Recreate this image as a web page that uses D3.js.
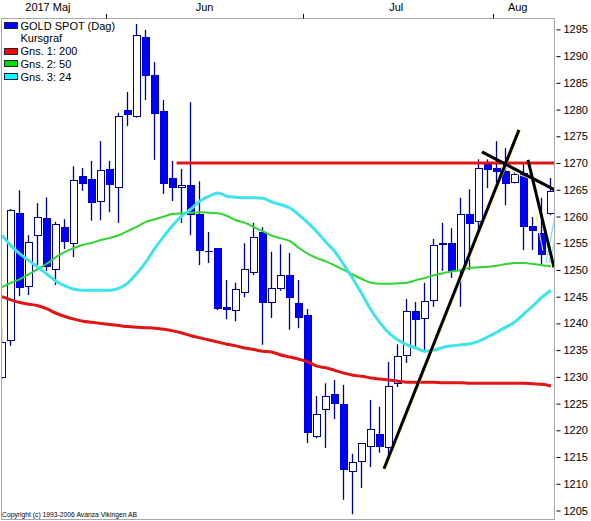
<!DOCTYPE html>
<html>
<head>
<meta charset="utf-8">
<script src="https://cdn.jsdelivr.net/npm/d3@7/dist/d3.min.js"></script>
<style>
  html, body { margin: 0; padding: 0; background: #fff; }
  svg { display: block; }
  text { font-family: "Liberation Sans", Arial, sans-serif; }
</style>
</head>
<body>
<svg id="chart" width="591" height="521"></svg>
<script>
// ---------- DATA ----------
const opens  = [1230.0,1236.9,1260.6,1247.0,1256.5,1259.7,1250.2,1258.0,1255.0,1267.6,1267.0,1262.9,1268.9,1265.5,1279.9,1278.8,1293.6,1286.5,1279.7,1267.2,1265.5,1265.9,1260.5,1253.6,1254.1,1243.1,1242.5,1245.9,1249.6,1257.1,1244.0,1246.6,1249.0,1243.8,1241.6,1218.9,1224.0,1226.8,1224.9,1212.4,1214.3,1217.1,1219.3,1216.9,1228.8,1234.1,1242.3,1241.0,1244.4,1254.9,1255.0,1250.0,1260.5,1259.2,1269.8,1269.1,1268.5,1266.4,1268.1,1258.2,1256.9,1260.6];
const highs  = [1239.1,1261.4,1264.9,1256.5,1262.5,1263.6,1259.0,1259.5,1269.4,1269.1,1270.4,1274.1,1270.4,1279.4,1283.3,1296.0,1294.9,1288.9,1281.8,1270.4,1268.9,1281.4,1266.6,1257.1,1254.1,1248.1,1247.6,1255.0,1258.8,1258.0,1253.4,1254.8,1253.2,1248.1,1242.7,1226.4,1228.8,1229.4,1228.5,1215.6,1217.6,1225.7,1224.4,1232.8,1236.1,1244.6,1244.0,1247.6,1255.8,1258.8,1257.8,1263.5,1265.1,1270.7,1270.7,1274.1,1272.8,1268.3,1270.2,1259.9,1263.5,1267.2];
const lows   = [1229.4,1235.8,1245.1,1245.3,1250.9,1249.8,1247.2,1253.9,1252.4,1264.8,1259.2,1259.3,1260.8,1258.8,1276.9,1278.5,1281.8,1270.6,1264.2,1262.9,1258.8,1256.5,1250.9,1251.3,1242.5,1240.8,1240.4,1244.9,1249.0,1236.0,1241.0,1246.1,1238.8,1239.1,1217.6,1218.5,1216.7,1222.1,1207.0,1204.3,1209.2,1213.1,1215.8,1214.8,1228.1,1232.6,1235.4,1234.6,1243.1,1249.8,1248.5,1243.1,1250.0,1256.9,1265.3,1266.4,1262.1,1266.2,1253.7,1253.7,1250.9,1260.3];
const closes = [1236.5,1261.2,1246.8,1255.2,1259.9,1250.7,1258.6,1255.4,1266.8,1266.3,1262.7,1268.7,1266.1,1278.8,1279.2,1293.9,1286.5,1279.4,1266.3,1265.5,1265.9,1260.5,1253.7,1253.5,1242.9,1242.7,1246.4,1250.2,1256.2,1244.0,1246.6,1249.0,1244.9,1241.2,1219.7,1223.0,1226.4,1225.1,1212.8,1214.1,1217.6,1220.2,1217.1,1228.3,1233.9,1242.3,1240.8,1244.2,1254.7,1255.0,1250.0,1260.5,1258.8,1269.1,1268.9,1268.5,1266.3,1267.9,1258.2,1257.5,1253.0,1264.8];

// moving averages (Gns. 1: 200, Gns. 2: 50, Gns. 3: 24), one value per candle
const ma200 = [1245.0,1244.4,1243.9,1243.6,1243.3,1242.7,1241.9,1241.3,1240.8,1240.4,1240.2,1240.0,1239.8,1239.6,1239.4,1239.3,1239.2,1239.1,1238.9,1238.6,1238.2,1237.7,1237.3,1236.9,1236.5,1236.1,1235.8,1235.4,1235.1,1234.8,1234.6,1234.1,1233.7,1233.3,1232.8,1232.0,1231.7,1231.2,1230.7,1230.3,1230.1,1229.8,1229.6,1229.4,1229.2,1229.0,1229.0,1229.0,1229.0,1228.9,1228.9,1228.9,1228.8,1228.8,1228.8,1228.8,1228.8,1228.8,1228.8,1228.7,1228.6,1228.3];
const ma50  = [1246.8,1247.6,1248.3,1249.2,1250.2,1251.2,1252.4,1253.4,1254.1,1254.7,1255.1,1255.6,1256.0,1256.5,1257.3,1258.1,1259.0,1259.5,1260.0,1260.5,1260.6,1260.7,1260.8,1260.7,1260.6,1260.1,1259.3,1258.8,1258.0,1257.2,1256.4,1255.9,1255.4,1254.1,1253.0,1252.2,1251.6,1250.8,1250.0,1249.1,1248.3,1247.6,1247.4,1247.4,1247.5,1247.6,1248.1,1248.5,1249.0,1249.4,1249.7,1250.0,1250.4,1250.5,1250.6,1250.8,1251.1,1251.3,1251.3,1251.1,1250.9,1250.7];
const ma24  = [1256.5,1254.5,1253.0,1251.7,1250.5,1249.2,1247.9,1247.0,1246.4,1246.2,1246.2,1246.2,1246.2,1246.6,1247.6,1249.4,1251.5,1254.1,1256.3,1258.4,1260.1,1261.4,1262.9,1263.8,1264.4,1263.8,1263.6,1263.5,1263.5,1263.4,1262.7,1262.2,1261.6,1260.3,1258.8,1257.1,1255.2,1253.4,1250.9,1248.3,1245.5,1242.5,1240.1,1238.2,1236.9,1236.0,1235.4,1234.8,1235.0,1235.5,1235.8,1236.0,1236.2,1236.7,1237.5,1238.4,1239.3,1240.3,1241.8,1243.3,1244.9,1246.2];

// horizontal resistance line: [start index, level]
const resistance = [19.4, 1270.0];

// drawn trend lines [[index, price], [index, price]]
const trendLines = [
  [[42.44, 1212.8], [57.44, 1276.2]],
  [[53.33, 1272.1], [61.50, 1264.9]],
  [[58.44, 1270.6], [61.33, 1250.5]]
];
const yellowLines = [
  [[42.62, 1212.8], [57.62, 1276.2]],
  [[55.20, 1269.3], [58.90, 1266.9]],
  [[59.30, 1260.5], [60.10, 1253.6]]
];
const cyanLines = [
  [[60.44, 1251.3], [61.50, 1260.6]],
  [[60.78, 1251.3], [61.50, 1255.8]]
];

// axis labels
const yTicks = d3.range(1205, 1296, 5);
const monthStarts = [12, 34, 55];
const monthLabels = ["2017 Maj", "Jun", "Jul", "Aug"];
const monthLabelAt = [5.1, 22.5, 43.8, 57.3];

const legendItems = [
  {label: "GOLD SPOT (Dag)", color: "#0000ff"},
  {label: "Kursgraf", color: null},
  {label: "Gns. 1: 200", color: "#ff0000"},
  {label: "Gns. 2: 50", color: "#00e000"},
  {label: "Gns. 3: 24", color: "#00ffff"}
];

// ---------- LAYOUT ----------
const svg = d3.select("#chart");
const plot = {left: 1.5, top: 18.5, right: 554.5, bottom: 519.5};
const x = d3.scaleLinear().domain([0, 61]).range([2, 551]);
const y = d3.scaleLinear().domain([1205, 1295]).range([510.5, 29.4]);

const navy = "#000090";

svg.append("defs").append("clipPath").attr("id", "clip")
  .append("rect").attr("x", plot.left + 0.5).attr("y", plot.top + 0.5)
  .attr("width", plot.right - plot.left - 1).attr("height", plot.bottom - plot.top - 1);

const g = svg.append("g").attr("clip-path", "url(#clip)");

// candles
const data = opens.map((o, i) => ({i, o, h: highs[i], l: lows[i], c: closes[i]}));
const cg = g.append("g");
cg.selectAll("line.wick").data(data).enter().append("line")
  .attr("x1", d => x(d.i) - 0.5).attr("x2", d => x(d.i) - 0.5)
  .attr("y1", d => y(d.h)).attr("y2", d => y(d.l))
  .attr("stroke", navy).attr("stroke-width", 1.3);
cg.selectAll("rect.body").data(data).enter().append("rect")
  .attr("x", d => x(d.i) - 3.5)
  .attr("width", 7)
  .attr("y", d => Math.round(y(Math.max(d.o, d.c))) + 0.5)
  .attr("height", d => Math.max(0.01, Math.round(y(Math.min(d.o, d.c))) - Math.round(y(Math.max(d.o, d.c)))))
  .attr("fill", d => d.c >= d.o ? "#ffffff" : "#0000ff")
  .attr("stroke", d => d.c >= d.o ? navy : "#0000c8")
  .attr("stroke-width", 1);

// moving averages
const maLine = d3.line().x((d, i) => x(i)).y(d => y(d)).curve(d3.curveMonotoneX);
g.append("path").attr("d", maLine(ma200)).attr("fill", "none").attr("stroke", "#e21414").attr("stroke-width", 3);
g.append("path").attr("d", maLine(ma50)).attr("fill", "none").attr("stroke", "#2ed62e").attr("stroke-width", 2);
g.append("path").attr("d", maLine(ma24)).attr("fill", "none").attr("stroke", "#3ee4ea").attr("stroke-width", 3);

// resistance
g.append("line")
  .attr("x1", x(resistance[0])).attr("x2", plot.right)
  .attr("y1", y(resistance[1])).attr("y2", y(resistance[1]))
  .attr("stroke", "#e21414").attr("stroke-width", 3);

// thin helper lines below trend lines, then trend lines
const segLine = d3.line().x(d => x(d[0])).y(d => y(d[1]));
yellowLines.forEach(t => g.append("path").attr("d", segLine(t)).attr("stroke", "#f4ef60").attr("stroke-width", 1).attr("fill", "none"));
cyanLines.forEach(t => g.append("path").attr("d", segLine(t)).attr("stroke", "#70e8f0").attr("stroke-width", 1.2).attr("fill", "none"));
trendLines.forEach(t => g.append("path").attr("d", segLine(t)).attr("stroke", "#000").attr("stroke-width", 3).attr("fill", "none"));

// frame
svg.append("rect")
  .attr("x", plot.left).attr("y", plot.top)
  .attr("width", plot.right - plot.left).attr("height", plot.bottom - plot.top)
  .attr("fill", "none").attr("stroke", "#a8a8a8").attr("stroke-width", 1);

// right axis
const yAxis = d3.axisRight(y).tickValues(yTicks).tickSize(4).tickPadding(3).tickFormat(d3.format("d"));
const ya = svg.append("g").attr("transform", `translate(${plot.right + 2},0)`).call(yAxis);
ya.select(".domain").remove();
ya.selectAll(".tick line").attr("stroke", "#000");
ya.selectAll(".tick text").attr("font-size", 11).attr("fill", "#000")
  .attr("font-family", "'Liberation Sans', Arial, sans-serif");

// top month axis
svg.selectAll("line.mtick").data(monthStarts).enter().append("line")
  .attr("x1", d => Math.round(x(d) - 4.5) + 0.5).attr("x2", d => Math.round(x(d) - 4.5) + 0.5)
  .attr("y1", 14).attr("y2", plot.top)
  .attr("stroke", "#000").attr("stroke-width", 1);
svg.selectAll("text.mlabel").data(monthLabels).enter().append("text")
  .attr("x", (d, i) => x(monthLabelAt[i])).attr("y", 11)
  .attr("text-anchor", "middle").attr("font-size", 11).attr("fill", "#000")
  .text(d => d);

// legend
const lg = svg.append("g");
legendItems.forEach((it, k) => {
  const cy = 25.7 + k * 12.7;
  if (it.color) {
    lg.append("rect").attr("x", 4.5).attr("y", Math.round(cy - 3.5) + 0.5).attr("width", 13).attr("height", 6)
      .attr("fill", it.color).attr("stroke", "#202040").attr("stroke-width", 1);
  }
  lg.append("text").attr("x", 20.5).attr("y", cy + 4).attr("font-size", 11).attr("fill", "#000").text(it.label);
});

// copyright
svg.append("text").attr("x", 2).attr("y", 517)
  .attr("font-family", "'Liberation Serif', 'Times New Roman', serif")
  .attr("font-size", 8).attr("textLength", 135).attr("lengthAdjust", "spacingAndGlyphs")
  .attr("fill", "#000").text("Copyright (c) 1993-2006 Avanza Vikingen AB");
</script>
</body>
</html>
